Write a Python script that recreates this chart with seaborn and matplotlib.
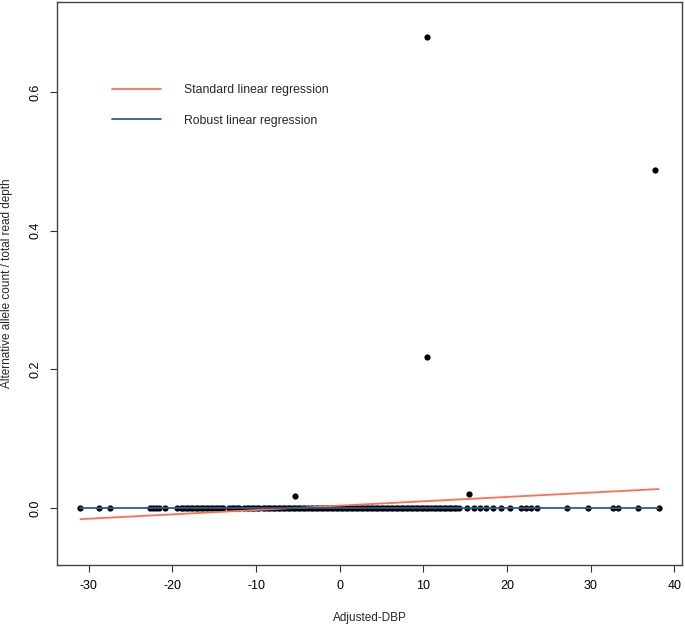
import numpy as np
import pandas as pd
import seaborn as sns
import matplotlib
matplotlib.use("Agg")
import matplotlib.pyplot as plt

# points sitting on zero (Adjusted-DBP values)
zero_x = [-31.0, -28.8, -27.5, -22.7, -22.3, -22.0, -21.6, -20.9,
          -19.4, -19.0, -18.7, -18.4, -18.1, -17.8, -17.5, -17.2, -16.9, -16.6,
          -16.3, -16.0, -15.7, -15.4, -15.1, -14.8, -14.5, -14.2, -13.9,
          -13.2, -12.9, -12.6, -12.3, -12.0, -11.4, -11.1, -10.8, -10.5, -10.2,
          -9.9, -9.6, -9.2, -8.9, -8.6, -8.3, -8.0, -7.7, -7.4, -7.1, -6.8,
          -6.5, -6.2, -5.9, -5.6, -5.3, -5.0, -4.7, -4.4, -4.1, -3.8, -3.5,
          -3.2, -2.9, -2.6, -2.3, -2.0, -1.7, -1.4, -1.1, -0.8, -0.5, -0.2,
          0.1, 0.4, 0.7, 1.0, 1.3, 1.6, 1.9, 2.2, 2.5, 2.8, 3.1, 3.4, 3.7,
          4.0, 4.3, 4.6, 4.9, 5.2, 5.5, 5.8, 6.1, 6.4, 6.7, 7.0, 7.3, 7.6,
          7.9, 8.2, 8.5, 8.8, 9.1, 9.4, 9.7, 10.0, 10.3, 10.6, 10.9, 11.2,
          11.5, 11.8, 12.1, 12.4, 12.7, 13.0, 13.3, 13.6, 13.9, 14.3,
          15.2, 16.0, 16.7, 17.5, 18.3, 19.3, 20.3, 21.7, 22.3, 22.8, 23.6,
          27.1, 29.7, 32.6, 33.2, 35.7, 38.1]

# points above zero
out_x = [10.4, 37.7, 10.4, -5.3, 15.4]
out_y = [0.680, 0.488, 0.218, 0.017, 0.020]

# fitted coefficients (intercept, slope)
std_fit = (0.0036, 0.000628)
rob_fit = (0.0, 0.0)

red = "#FF6E4E"
blue = "#245E9C"

pts = pd.DataFrame({
    "x": zero_x + out_x,
    "y": [0.0] * len(zero_x) + out_y,
})
xr = np.array([min(pts["x"]), max(pts["x"])])
lines = pd.DataFrame({
    "x": np.concatenate([xr, xr]),
    "y": np.concatenate([std_fit[0] + std_fit[1] * xr, rob_fit[0] + rob_fit[1] * xr]),
    "fit": ["Standard linear regression"] * 2 + ["Robust linear regression"] * 2,
})

sns.set_style("ticks")
plt.rcParams["font.family"] = ["Liberation Sans", "DejaVu Sans"]
plt.rcParams["axes.unicode_minus"] = False

fig = plt.figure(figsize=(6.85, 6.25), dpi=100)
ax = fig.add_axes([57 / 685, 60 / 625, 625 / 685, 563 / 625])

sns.scatterplot(data=pts, x="x", y="y", ax=ax, color="black", s=20,
                edgecolor="black", linewidth=0, zorder=2, legend=False)
sns.lineplot(data=lines, x="x", y="y", hue="fit", ax=ax,
             palette={"Standard linear regression": red, "Robust linear regression": blue},
             linewidth=1.3, zorder=3, estimator=None, sort=False)

ax.set_xlim(-33.8, 40.9)
ax.set_ylim(-0.082, 0.730)
ax.set_xticks(range(-30, 41, 10))
ax.set_yticks([0.0, 0.2, 0.4, 0.6])
ax.set_yticklabels(["0.0", "0.2", "0.4", "0.6"], rotation=90, va="center")
ax.tick_params(labelsize=9, length=5, width=0.8, colors="#333333", labelcolor="black", pad=6)
for s in ax.spines.values():
    s.set_visible(True)
    s.set_linewidth(1.0)
    s.set_color("#444444")

ax.set_xlabel("Adjusted-DBP", fontsize=8.5, labelpad=14)
ax.set_ylabel("Alternative allele count / total read depth", fontsize=8.5, labelpad=12)

leg = ax.legend(loc="upper left", bbox_to_anchor=(0.088, 0.854), frameon=False,
                fontsize=8.8, handlelength=4.0, handletextpad=1.9, labelspacing=1.5,
                borderpad=0, borderaxespad=0)
leg.set_title(None)

fig.savefig("out.png", dpi=100)
